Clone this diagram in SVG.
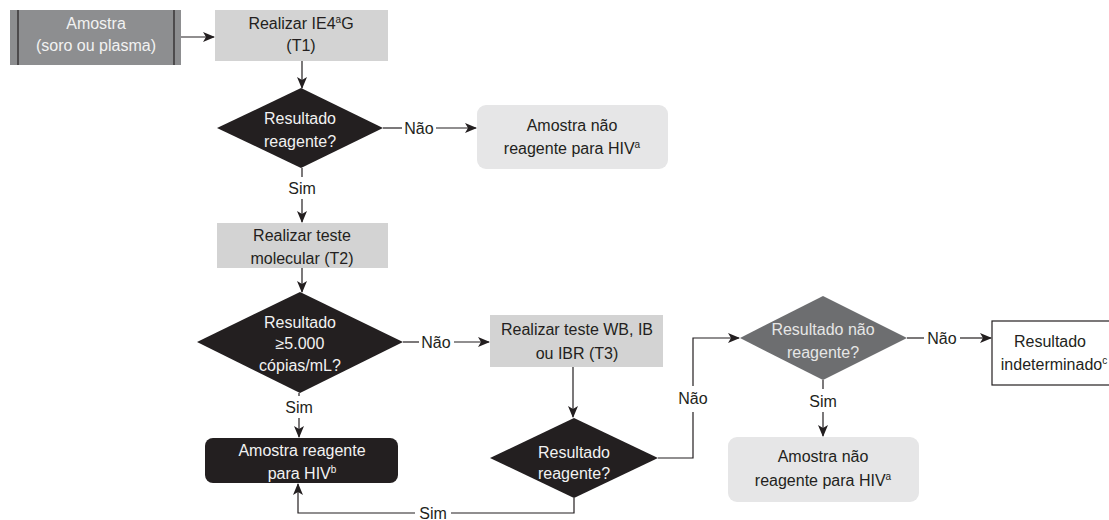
<svg xmlns="http://www.w3.org/2000/svg" width="1109" height="520" viewBox="0 0 1109 520">
<defs>
<marker id="arr" viewBox="0 0 12 10" refX="11" refY="5" markerWidth="12" markerHeight="10" markerUnits="userSpaceOnUse" orient="auto">
<path d="M0,0 L12,5 L0,10 L3,5 Z" fill="#231f20"/>
</marker>
<style>
text{font-family:"Liberation Sans",Arial,sans-serif;font-size:16px;text-anchor:middle;}
.dk{fill:#231f20;}
.lt{fill:#f2f2f2;}
.gtxt{fill:#e6e6e6;}
.sup{font-size:10px;}
.ln{stroke:#231f20;stroke-width:1.2;fill:none;}
.act{fill:#d3d3d3;}
.res{fill:#e6e6e7;}
.dia{fill:#231f20;}
</style>
</defs>
<rect width="1109" height="520" fill="#ffffff"/>

<g id="connectors">
<line class="ln" x1="181" y1="37" x2="214" y2="37" marker-end="url(#arr)"/>
<line class="ln" x1="302" y1="61" x2="302" y2="88" marker-end="url(#arr)"/>
<line class="ln" x1="383" y1="128" x2="402" y2="128"/>
<line class="ln" x1="436" y1="128" x2="476" y2="128" marker-end="url(#arr)"/>
<line class="ln" x1="302" y1="168" x2="302" y2="177"/>
<line class="ln" x1="302" y1="199" x2="302" y2="222" marker-end="url(#arr)"/>
<line class="ln" x1="302" y1="268" x2="302" y2="292" marker-end="url(#arr)"/>
<line class="ln" x1="403" y1="342" x2="419" y2="342"/>
<line class="ln" x1="454" y1="342" x2="489" y2="342" marker-end="url(#arr)"/>
<line class="ln" x1="299" y1="393" x2="299" y2="396"/>
<line class="ln" x1="299" y1="418" x2="299" y2="437" marker-end="url(#arr)"/>
<line class="ln" x1="573" y1="367" x2="573" y2="417" marker-end="url(#arr)"/>
<polyline class="ln" points="574,498 574,513 451,513"/>
<polyline class="ln" points="415,513 298,513 298,484" marker-end="url(#arr)"/>
<polyline class="ln" points="658,458 693,458 693,412"/>
<polyline class="ln" points="693,386 693,338 739,338" marker-end="url(#arr)"/>
<line class="ln" x1="907" y1="338" x2="924" y2="338"/>
<line class="ln" x1="960" y1="338" x2="991" y2="338" marker-end="url(#arr)"/>
<line class="ln" x1="823" y1="380" x2="823" y2="389"/>
<line class="ln" x1="823" y1="412" x2="823" y2="436" marker-end="url(#arr)"/>
<text class="dk" x="419" y="134">Não</text>
<text class="dk" x="302" y="194">Sim</text>
<text class="dk" x="436" y="348">Não</text>
<text class="dk" x="299" y="413">Sim</text>
<text class="dk" x="433" y="519">Sim</text>
<text class="dk" x="693" y="404">Não</text>
<text class="dk" x="942" y="344">Não</text>
<text class="dk" x="823" y="407">Sim</text>
</g>

<g id="amostra">
<rect x="10" y="10" width="171" height="55" fill="#8d8e90"/>
<line x1="18" y1="10" x2="18" y2="65" stroke="#231f20" stroke-width="1.2"/>
<line x1="174" y1="10" x2="174" y2="65" stroke="#231f20" stroke-width="1.2"/>
<text class="lt" x="96" y="29">Amostra</text>
<text class="lt" x="96" y="51">(soro ou plasma)</text>
</g>

<g id="t1">
<rect class="act" x="215" y="10" width="173" height="51"/>
<text class="dk" x="301" y="29">Realizar IE4<tspan class="sup" dy="-6">a</tspan><tspan dy="6">G</tspan></text>
<text class="dk" x="301" y="51">(T1)</text>
</g>

<g id="d1">
<polygon class="dia" points="301,88 383,128 301,168 217,128"/>
<text class="lt" x="300" y="124">Resultado</text>
<text class="lt" x="300" y="147">reagente?</text>
</g>

<g id="naoreag1">
<rect class="res" x="477" y="105" width="191" height="64" rx="9"/>
<text class="dk" x="572" y="131">Amostra não</text>
<text class="dk" x="572" y="154">reagente para HIV<tspan class="sup" dy="-6">a</tspan></text>
</g>

<g id="t2">
<rect class="act" x="217" y="223" width="171" height="45"/>
<text class="dk" x="302" y="241">Realizar teste</text>
<text class="dk" x="302" y="264">molecular (T2)</text>
</g>

<g id="d2">
<polygon class="dia" points="300,292 403,342 300,393 197,342"/>
<text class="lt" x="300" y="328">Resultado</text>
<text class="lt" x="300" y="349">≥5.000</text>
<text class="lt" x="300" y="371">cópias/mL?</text>
</g>

<g id="reagente">
<rect x="205" y="438" width="193" height="45" rx="8" fill="#231f20"/>
<text class="lt" x="302" y="456">Amostra reagente</text>
<text class="lt" x="302" y="479">para HIV<tspan class="sup" dy="-6">b</tspan></text>
</g>

<g id="t3">
<rect class="act" x="490" y="315" width="173" height="52"/>
<text class="dk" x="577" y="335">Realizar teste WB, IB</text>
<text class="dk" x="577" y="359">ou IBR (T3)</text>
</g>

<g id="d3">
<polygon class="dia" points="574,418 658,458 574,498 490,458"/>
<text class="lt" x="574" y="458">Resultado</text>
<text class="lt" x="574" y="479">reagente?</text>
</g>

<g id="d4">
<polygon points="823,296 907,338 823,380 740,338" fill="#6d6e70"/>
<text class="gtxt" x="823" y="335">Resultado não</text>
<text class="gtxt" x="823" y="358">reagente?</text>
</g>

<g id="indeterminado">
<rect x="992" y="321" width="125" height="64" fill="#ffffff" stroke="#231f20" stroke-width="1.2"/>
<text class="dk" x="1050" y="347">Resultado</text>
<text class="dk" x="1054" y="370">indeterminado<tspan class="sup" dy="-6">c</tspan></text>
</g>

<g id="naoreag2">
<rect class="res" x="728" y="437" width="191" height="65" rx="9"/>
<text class="dk" x="823" y="462">Amostra não</text>
<text class="dk" x="823" y="486">reagente para HIV<tspan class="sup" dy="-6">a</tspan></text>
</g>
</svg>
